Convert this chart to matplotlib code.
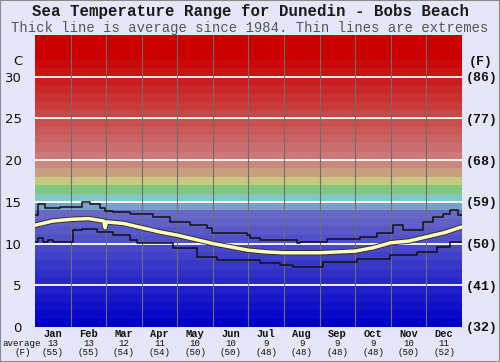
import numpy as np
import matplotlib.pyplot as plt
import matplotlib.patheffects as pe
from matplotlib.patches import Rectangle

# monthly summary shown under the chart
months = ['Jan', 'Feb', 'Mar', 'Apr', 'May', 'Jun', 'Jul', 'Aug', 'Sep', 'Oct', 'Nov', 'Dec']
avg_c = [13, 13, 12, 11, 10, 10, 9, 9, 9, 9, 10, 11]
avg_f = [55, 55, 54, 54, 50, 50, 48, 48, 48, 48, 50, 52]

# average line (x in months since 1 Jan)
avg_x = [0.0, 0.5, 1.0, 1.5, 1.93, 1.97, 2.01, 2.5, 3.0, 3.5, 4.0, 4.5, 5.0, 5.5,
         6.0, 6.5, 7.0, 7.5, 8.0, 8.5, 9.0, 9.5, 10.0, 10.5, 11.0, 11.5, 12.0]
avg_t = [12.2, 12.7, 12.9, 13.0, 12.7, 11.9, 12.6, 12.4, 11.9, 11.4, 11.0, 10.5, 10.0, 9.6,
         9.2, 9.0, 8.9, 8.9, 8.9, 9.0, 9.1, 9.5, 10.1, 10.3, 10.8, 11.3, 12.0]

# extremes (step lines)
max_x = [0.0, 0.08, 0.28, 0.70, 1.32, 1.55, 1.83, 1.97, 2.19, 2.67, 3.32, 3.79, 4.36,
         4.83, 4.97, 5.96, 6.04, 6.32, 7.36, 7.45, 8.21, 9.13, 9.61, 10.06, 10.34,
         10.90, 11.19, 11.47, 11.66, 11.89, 12.0]
max_t = [13.4, 14.8, 14.3, 14.4, 15.0, 14.8, 14.3, 13.9, 13.8, 13.6, 13.2, 12.6, 12.2,
         11.9, 11.3, 11.0, 10.7, 10.4, 10.1, 10.2, 10.5, 10.8, 11.3, 12.2, 11.6,
         12.6, 13.2, 13.6, 14.0, 13.4, 13.4]
min_x = [0.0, 0.08, 0.22, 0.37, 0.51, 1.07, 1.32, 1.74, 2.19, 2.67, 2.87, 3.88, 4.55,
         5.12, 6.32, 6.89, 7.25, 8.10, 9.05, 9.98, 10.74, 11.30, 11.66, 12.0]
min_t = [10.2, 10.7, 10.2, 10.4, 10.2, 11.6, 11.7, 11.4, 11.0, 10.4, 10.1, 9.5, 8.4,
         8.0, 7.7, 7.4, 7.2, 7.8, 8.2, 8.6, 9.0, 9.6, 10.2, 10.2]

c_ticks = [0, 5, 10, 15, 20, 25, 30]


def band_color(t):
    if t < 14:
        v = t * 8
        return (v / 255, v / 255, 200 / 255)
    special = {14: '#78a0c8', 15: '#80c8c8', 16: '#80c880', 17: '#c8c880',
               18: '#c8a080', 19: '#c88880'}
    if t in special:
        return special[t]
    v = max(0, (32 - t) * 10)
    return (202 / 255, v / 255, v / 255)


mono = 'Liberation Mono'
bg = '#e6e6fa'

fig = plt.figure(figsize=(5, 3.62), dpi=100, facecolor=bg)
ax = fig.add_axes([0.07, 0.0967, 0.854, 0.8066])

temps = np.arange(0, 35)
ax.barh(temps + 0.5, 12, height=1.0, left=0, color=[band_color(t) for t in temps],
        edgecolor='none', zorder=0)

for t in c_ticks[1:]:
    ax.axhline(t, color='white', lw=1.3, zorder=1)
for m in range(1, 12):
    ax.axvline(m, color='#6e6e6e', lw=0.8, zorder=1)

ax.plot(max_x, max_t, drawstyle='steps-post', color='#111111', lw=1.1, zorder=3)
ax.plot(min_x, min_t, drawstyle='steps-post', color='#111111', lw=1.1, zorder=3)
ax.plot(avg_x, avg_t, color='#ffffc0', lw=2.5, zorder=4, solid_joinstyle='round',
        path_effects=[pe.Stroke(linewidth=3.9, foreground='#333333'), pe.Normal()])

ax.set_xlim(0, 12)
ax.set_ylim(0, 35)
for s in ax.spines.values():
    s.set_visible(False)
ax.set_xticks([])
ax.set_yticks(c_ticks)
ax.set_yticklabels([str(t) for t in c_ticks], fontfamily='DejaVu Sans', fontsize=9.5)
ax.tick_params(axis='y', length=0, pad=9.5, colors='#111111')

ax2 = ax.twinx()
ax2.set_ylim(0, 35)
for s in ax2.spines.values():
    s.set_visible(False)
ax2.set_yticks(c_ticks)
ax2.set_yticklabels(['(%d)' % round(t * 9 / 5 + 32) for t in c_ticks],
                    fontfamily=mono, fontweight='bold', fontsize=9.5)
ax2.tick_params(axis='y', length=0, pad=2.5, colors='#111111')

tr = ax.get_xaxis_transform()
for i, m in enumerate(months):
    ax.text(i + 0.5, -0.024, m, transform=tr, ha='center', va='center',
            fontfamily=mono, fontweight='bold', fontsize=7.5, color='#111111')
    ax.text(i + 0.5, -0.055, str(avg_c[i]), transform=tr, ha='center', va='center',
            fontfamily=mono, fontsize=6.6, color='#111111')
    ax.text(i + 0.5, -0.086, '(%d)' % avg_f[i], transform=tr, ha='center', va='center',
            fontfamily=mono, fontsize=6.6, color='#111111')

fig.text(0.044, 0.0515, 'average', ha='center', va='center', fontfamily=mono,
         fontsize=6.6, color='#111111')
fig.text(0.046, 0.027, '(F)', ha='center', va='center', fontfamily=mono,
         fontsize=6.6, color='#111111')
fig.text(0.036, 0.830, 'C', ha='center', va='center', fontfamily='DejaVu Sans',
         fontsize=9.5, color='#111111')
fig.text(0.962, 0.829, '(F)', ha='center', va='center', fontfamily=mono,
         fontweight='bold', fontsize=9.5, color='#111111')

fig.text(0.5, 0.967, 'Sea Temperature Range for Dunedin - Bobs Beach', ha='center',
         va='center', fontfamily=mono, fontweight='bold', fontsize=11.3, color='#1a1a1a')
fig.text(0.5, 0.922, 'Thick line is average since 1984. Thin lines are extremes',
         ha='center', va='center', fontfamily=mono, fontsize=10, color='#555555')

fig.patches.append(Rectangle((0, 0), 1, 1, transform=fig.transFigure, fill=False,
                             edgecolor='#8a8a8a', lw=1.5))

fig.savefig('out.png', dpi=100, facecolor=fig.get_facecolor())
